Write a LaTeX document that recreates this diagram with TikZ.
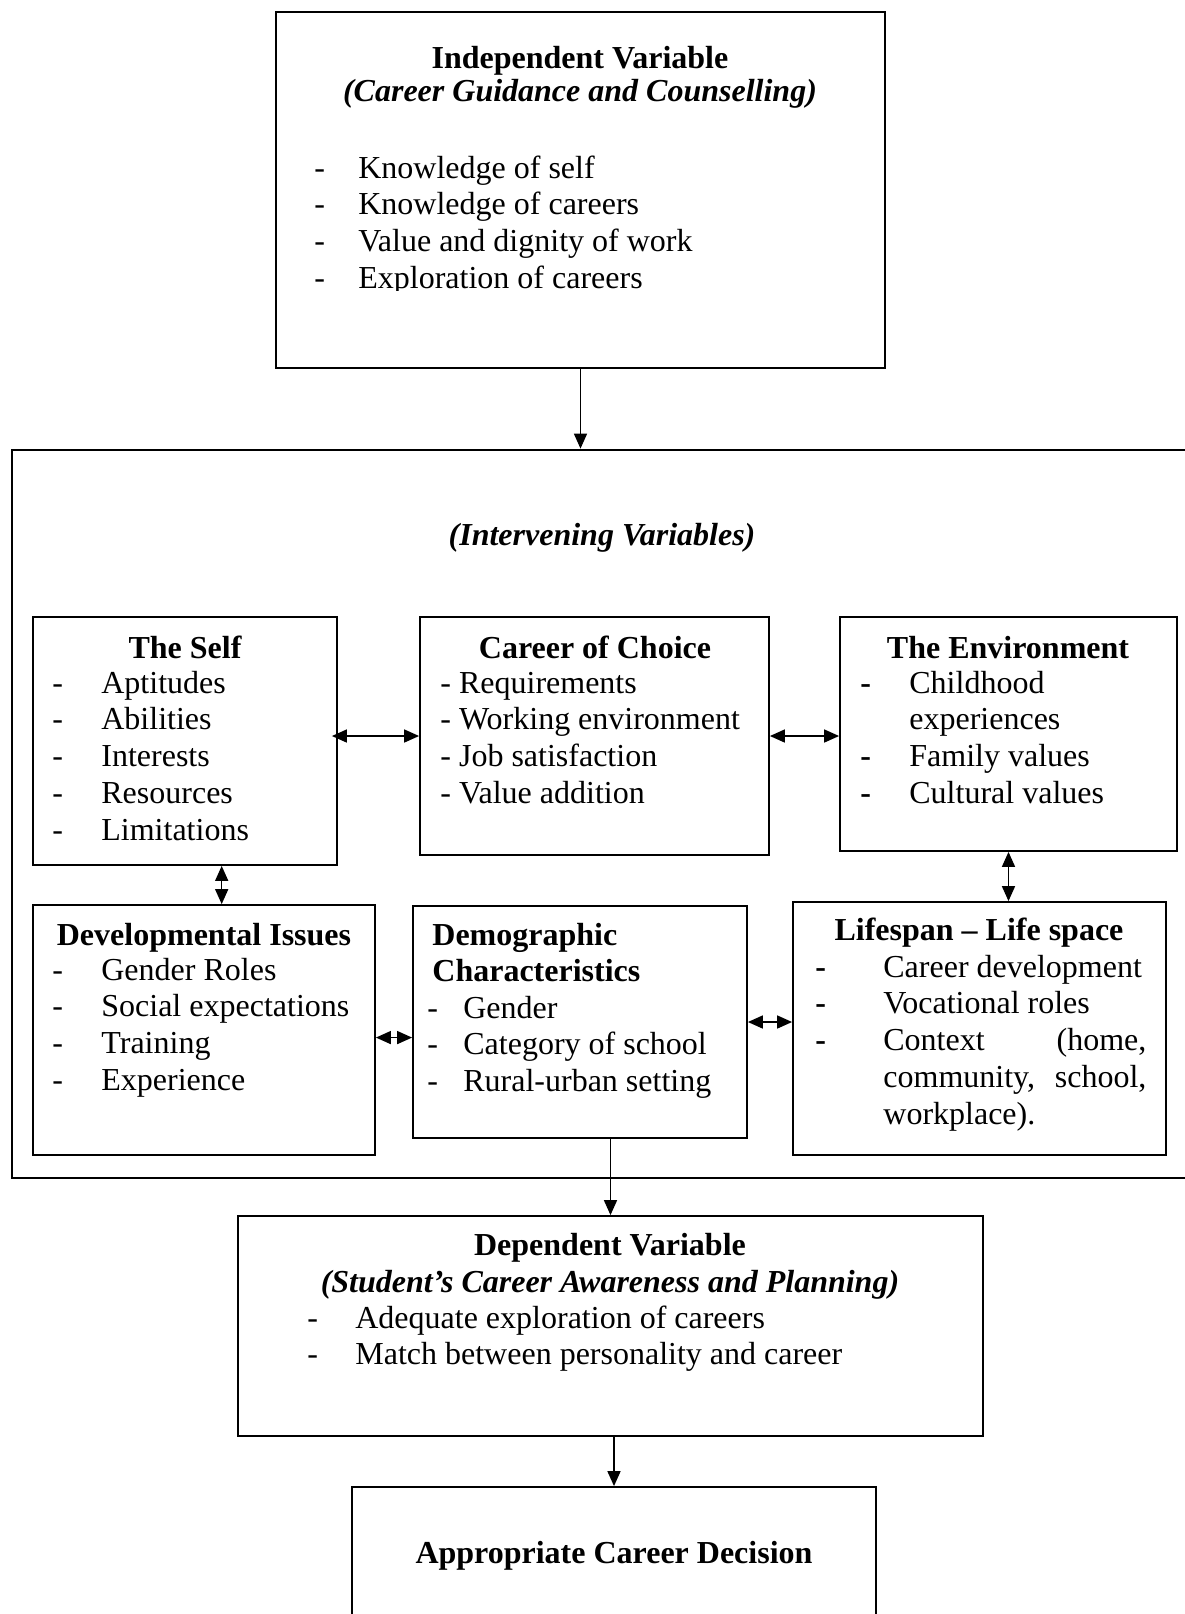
\documentclass[tikz,border=0pt]{standalone}
\usepackage{fontspec}
\setmainfont{Liberation Serif}
\usetikzlibrary{arrows.meta,calc,fit}

\begin{document}
\begin{tikzpicture}[x=0.5pt,y=0.5pt,yscale=-1,xscale=1,
    box/.style={draw,line width=0.9pt,inner sep=0pt},
    txt/.style={inner sep=0pt,font=\fontsize{16}{18.4}\selectfont},
    head/.style={txt,anchor=base,font=\fontsize{16}{18.4}\selectfont\bfseries},
    headit/.style={head,font=\fontsize{16}{18.4}\selectfont\bfseries\itshape},
    items/.style={txt,anchor=base west},
    arr/.style={-{Triangle[length=7.5pt,width=6.5pt]},line width=0.8pt},
    dblarr/.style={{Triangle[length=7.5pt,width=6.5pt]}-{Triangle[length=7.5pt,width=6.5pt]},line width=0.8pt}]
  \useasboundingbox (0,0) rectangle (1185,1614);

  % Boxes
  \node [box,fit={(276,12) (885,368)}] (indep) {};
  \node [box,line width=1.4pt,fit={(12,450) (1210,1178)}] (outer) {};
  \node [box,fit={(33,617) (337,865)}] (self) {};
  \node [box,fit={(420,617) (769,855)}] (choice) {};
  \node [box,fit={(840,617) (1177,851)}] (env) {};
  \node [box,fit={(33,905) (375,1155)}] (dev) {};
  \node [box,fit={(413,906) (747,1138)}] (demo) {};
  \node [box,fit={(793,902) (1166,1155)}] (life) {};
  \node [box,fit={(238,1216) (983,1436)}] (dep) {};
  \node [box,fit={(352,1487) (876,1630)}] (dec) {};

  % Independent variable
  \node [head] (indepname) at (580,68) {Independent Variable};
  \node [headit] (indepsub) at (580,101) {(Career Guidance and Counselling)};
  \begin{scope}
    \clip (276,12) rectangle (885,290);
    \node [items] (indeplist) at (314,178) {\begin{tabular}[t]{@{}p{22pt}@{}l@{}}
      - & Knowledge of self\\
      - & Knowledge of careers\\
      - & Value and dignity of work\\
      - & Exploration of careers
    \end{tabular}};
  \end{scope}

  % Intervening variables
  \node [headit] (intername) at (602,545) {(Intervening Variables)};

  \node [head] (selfname) at (185,658) {The Self};
  \node [items] (selflist) at (52,693) {\begin{tabular}[t]{@{}p{24.5pt}@{}l@{}}
    - & Aptitudes\\
    - & Abilities\\
    - & Interests\\
    - & Resources\\
    - & Limitations
  \end{tabular}};

  \node [head] (choicename) at (595,658) {Career of Choice};
  \node [items] (choicelist) at (440,693) {\begin{tabular}[t]{@{}l@{}}
    - Requirements\\
    - Working environment\\
    - Job satisfaction\\
    - Value addition
  \end{tabular}};

  \node [head] (envname) at (1008,658) {The Environment};
  \node [items] (envlist) at (860,693) {\begin{tabular}[t]{@{}p{24.5pt}@{}l@{}}
    \textbf{-} & Childhood\\
               & experiences\\
    \textbf{-} & Family values\\
    \textbf{-} & Cultural values
  \end{tabular}};

  \node [head] (devname) at (204,945) {Developmental Issues};
  \node [items] (devlist) at (52,980) {\begin{tabular}[t]{@{}p{24.5pt}@{}l@{}}
    - & Gender Roles\\
    - & Social expectations\\
    - & Training\\
    - & Experience
  \end{tabular}};

  \node [items] (demoname) at (432,945) {\bfseries\begin{tabular}[t]{@{}l@{}}
    Demographic\\
    Characteristics
  \end{tabular}};
  \node [items] (demolist) at (427,1018) {\begin{tabular}[t]{@{}p{18pt}@{}l@{}}
    - & Gender\\
    - & Category of school\\
    - & Rural-urban setting
  \end{tabular}};

  \node [head] (lifename) at (979,940) {Lifespan -- Life space};
  \node [items] (lifelist) at (815,977) {\begin{tabular}[t]{@{}p{34pt}@{}p{131.5pt}@{}}
    \textbf{-} & Career development\\
    \textbf{-} & Vocational roles\\
    \textbf{-} & Context \hfill (home,\\
               & community, \hfill school,\\
               & workplace).
  \end{tabular}};

  % Dependent variable
  \node [head] (depname) at (610,1255) {Dependent Variable};
  \node [headit] (depsub) at (610,1292) {(Student's Career Awareness and Planning)};
  \node [items] (deplist) at (307,1328) {\begin{tabular}[t]{@{}p{24pt}@{}l@{}}
    - & Adequate exploration of careers\\
    - & Match between personality and career
  \end{tabular}};

  \node [head] (decname) at (614,1563) {Appropriate Career Decision};

  % Connectors
  \coordinate (selfdown) at ($(self.south west)!0.62!(self.south east)$);
  \coordinate (devright) at ($(dev.north east)!0.53!(dev.south east)$);
  \draw [arr] (indep.south) -- (indep.south |- outer.north);
  \draw [dblarr] ([xshift=-3pt]self.east |- choice.west) -- (choice.west);
  \draw [dblarr] (choice.east) -- (choice.east -| env.west);
  \draw [dblarr] (selfdown) -- (selfdown |- dev.north);
  \draw [dblarr] (env.south) -- (env.south |- life.north);
  \draw [dblarr] (devright) -- (devright -| demo.west);
  \draw [dblarr] (demo.east) -- (demo.east -| life.west);
  \draw [arr] (dep.north |- demo.south) -- (dep.north);
  \draw [arr] (dec.north |- dep.south) -- (dec.north);
\end{tikzpicture}
\end{document}
